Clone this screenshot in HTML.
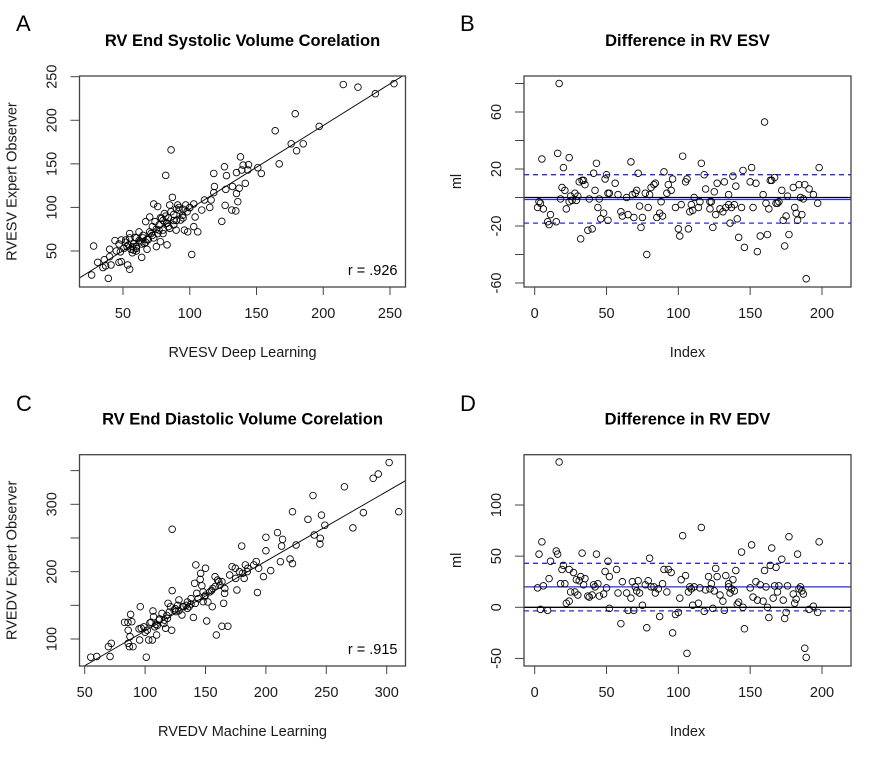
<!DOCTYPE html>
<html><head><meta charset="utf-8">
<style>
html,body{margin:0;padding:0;background:#fff;}
svg{display:block;font-family:"Liberation Sans",Arial,sans-serif;}
</style></head>
<body>
<svg id="fig" width="891" height="759" viewBox="0 0 891 759"></svg>
<script>
// ---- Panel A data: RVESV deep learning (x) vs expert (y)
const escX = [26.5,28,31,35,36,37,39,40,41,40,44,47,48.7,48,48.7,50.7,52,53.5,55,55,57,58,59,60,62,63,64,65,66,67,68,69,70,71,72,73,74,75,76,77,78,79,80,81,82,83,82.7,84,85,86,87,88,89.8,91,92,93.2,94.7,96,97,98.5,100,101.5,103,104,103,106,109,111,115,116,118,118,118.5,124,126,126.5,127,127.5,131.5,132,134.5,135,136,135,137,138,139,140,141.6,143.5,144,151,153.6,164,167,176,179,180,185,197,215,226,239,253,52,55,58,60,62,65,67,70,72,75,77,80,82,84,86,88,90,92,95,98,100,78,80,83,85,76,73,68,64,56,54,60,88,95,90,60,57,53,47,45];
const escY = [22.5,55.7,37,31,40,33,18.6,43.5,34,52,62,37,37.8,49,62.6,53,62.6,34,29,70,55,51,65.7,53,72,60.7,42.7,68,58.8,83.7,52,63,89,70,78,104,83.7,55,101,74,60.7,87.5,74,93,136.8,57,81.7,78,102.8,166,111.6,85,74,102.8,97,85.6,91,74,102.8,72,99.7,46,104,89,78,72,97,108.5,100,108.5,139,117,124,84,146.7,102.4,120.7,136.5,97,124,96,116,106.6,140,122,158,143,148.6,127.6,143,149,145.6,139,188,150,173,207.5,165,173,193,241,238,230.5,242,60,65,58,55,62,65,60,72,68,75,80,85,90,88,95,92,98,100,98,95,100,88,70,82,76,70,65,63,58,52,57,65,80,88,85,50,48,55,58,50];
// ---- Panel B data: difference in RV ESV
const diffEsvIdx = [2,3,4,5,6,9,10,11,15,16,17,18,19,20,21,22,24,24,25,26,28,29,30,31,32,33,34,35,37,38,40,41,42,43,44,45,46,48,49,50,51,51,52,56,58,60,61,64,65,67,68,69,70,71,72,73,74,75,77,78,79,80,81,83,84,85,87,88,89,90,92,93,95,96,98,100,101,102,103,105,106,107,108,109,110,111,114,115,116,118,119,122,122,123,124,125,126,127,129,131,132,133,135,135,136,137,138,139,140,141,142,144,145,146,150,151,152,154,155,157,159,160,161,162,163,164,165,167,168,169,170,172,173,174,175,176,177,180,181,182,183,184,185,186,187,188,189,191,194,197,198];
const diffEsvVal = [-7,-3,-4,27,-8,-17,-19,-12,-17,31,80,-1,7,21,5,-8,28,-3,1,-2,3,-2,1,11,-29,12,12,9,-23,-1,-22,17,5,24,-7,-1,-15,-11,13,16,-16,3,3,10,2,-10,-13,0,-12,25,2,-14,3,5,17,-6,-21,-14,3,-40,-7,2,7,9,10,-14,-11,-3,-13,18,3,9,5,13,-7,-22,-27,-5,29,11,13,-22,-10,-5,-9,0,-7,-3,24,16,6,-3,-8,-3,-21,4,-12,10,-8,-10,11,-7,-5,2,-18,-7,15,-5,8,-15,-28,-7,19,-35,11,21,-7,10,-38,-27,2,53,-4,-26,-8,12,12,14,-4,-4,-3,5,-16,-34,-13,1,-26,7,-7,-11,-16,9,0,-12,-1,9,-57,6,2,-4,21];
const esvMean = [-1.4], esvLo = [-18], esvHi = [16];
// ---- Panel C data: RVEDV machine learning (x) vs expert (y)
const edvX = [55,60,69.6,72,71,86,87,86,85.8,87.5,88,89,90,83,95.5,96,96.8,99,101,101.8,103,104,106,106.5,107,109,109.5,111.6,114,115.6,117,118.5,119,121,122,122.4,122.4,124,125.6,128,130.5,131,134,135,136.5,140,141,141.6,142,142.7,145.6,146,147,148,149,150,151,152,153.6,155.6,156,157.9,159,160,162,163.6,163.6,165,165.8,168.5,172,174.7,175,176,180,180.6,182,183,184.6,193,194,198,200,200,204,209.6,212,213.8,213,220,222,222,225,234.8,239,240,244.7,245,246,248.8,265,272,280.7,288.8,293,302,310,110,112,118,120,125,127,132,138,144,150,155,158,161,166,170,178,185,190,192,100,95,105,108,116,128,135,138,148];
const edvY = [73,74,88.6,93.6,74,93.6,88.6,113,124.8,103.5,136.6,125.7,88.6,124.8,98.5,148,116,118,73,113,98.5,124,98.5,141.6,133,121.8,106,128,138,123,116,130.7,153,148,113,263,171.8,143,140.6,158,135.6,148,150,145.5,148,132,182.7,153,210,167.8,188.6,197.5,179,155.4,162.9,205,126.7,155,170,148,175,192.6,106,187.6,180,119,185,153,167.8,119,207.4,205,190,172.8,238,197.5,190,210,200,169,205,192.6,251,231,201.5,258,214.8,248,238,218.8,212,289,239.6,277.7,313,254.5,241,249.5,284,269,326,265,287.6,338.6,345,362,289,120,130,135,140,145,150,148,152,160,165,172,178,185,175,195,200,205,210,215,110,115,125,118,128,142,155,160,170];
// ---- Panel D data: difference in RV EDV
const diffEdvIdx = [2,3,4,5,6,9,10,11,15,16,17,18,19,20,21,22,24,24,25,27,28,29,30,31,32,33,34,35,37,38,40,41,42,43,44,45,48,49,50,51,52,52,57,58,60,61,64,65,67,68,69,70,71,72,73,75,77,78,79,80,81,83,84,86,87,89,90,92,93,95,96,98,100,101,102,103,105,106,107,108,109,110,111,114,115,116,118,119,121,122,123,124,125,126,127,129,131,132,133,135,135,136,137,138,139,140,141,142,144,145,146,150,151,152,154,155,157,159,160,161,162,163,164,165,166,167,168,169,170,172,173,174,175,176,177,180,181,182,183,184,185,186,187,188,189,191,194,197,198];
const diffEdvVal = [19,52,-2,64,21,-3,28,45,55,52,142,23,37,41,23,4,37,6,15,34,15,27,12,26,30,53,22,28,11,10,12,22,20,52,23,11,13,35,19,45,-1,30,37,14,-16,25,14,-3,9,25,-3,20,16,26,14,2,22,-20,26,48,20,20,14,18,-9,23,37,15,37,34,-25,-7,-5,9,27,70,31,-45,15,20,18,2,20,4,19,78,-4,17,30,18,23,-1,16,38,30,12,6,-3,31,20,23,14,18,27,16,36,3,5,54,0,-21,19,61,10,25,7,22,6,36,20,0,-10,41,58,9,21,39,15,21,47,7,-11,-5,21,69,13,4,8,52,18,20,16,13,-40,-49,-2,1,-5,64];
const edvMean = [20], edvLo = [-3.5], edvHi = [43];

const NS = "http://www.w3.org/2000/svg";
const svg = document.getElementById('fig');
function mk(tag, attrs, parent, text) {
  const e = document.createElementNS(NS, tag);
  for (const k in attrs) e.setAttribute(k, attrs[k]);
  if (text !== undefined) e.textContent = text;
  (parent || svg).appendChild(e);
  return e;
}
function lin(d0, d1, r0, r1) { return v => r0 + (v - d0) * (r1 - r0) / (d1 - d0); }

function panel(cfg) {
  const g = mk('g', {});
  
  
  const X = lin(cfg.xd[0], cfg.xd[1], cfg.xr[0], cfg.xr[1]);
  const Y = lin(cfg.yd[0], cfg.yd[1], cfg.yr[0], cfg.yr[1]);
  const L = cfg.box[0], T = cfg.box[1], R = cfg.box[2], B = cfg.box[3];
  const lt = mk('text', {x: cfg.letterX, y: cfg.letterY, 'font-size': 22, fill: '#000'}, g, cfg.letter);
  
  
  const tt = mk('text', {x: (L + R) / 2, y: T - 30, 'font-size': 16.5, 'font-weight': 'bold', 'text-anchor': 'middle', fill: '#000'}, g, cfg.title);
  
  
  const cid = 'clip' + cfg.letter;
  const cp = mk('clipPath', {id: cid}, g);
  mk('rect', {x: L, y: T, width: R - L, height: B - T}, cp);
  const plot = mk('g', {'clip-path': 'url(#' + cid + ')'}, g);
  if (cfg.fit) {
    const fl = mk('line', {x1: X(cfg.fit[0][0]), y1: Y(cfg.fit[0][1]), x2: X(cfg.fit[1][0]), y2: Y(cfg.fit[1][1]), stroke: '#000', 'stroke-width': 0.9}, plot);
    
    
  }
  if (cfg.hlines) {
    const z = mk('line', {x1: L, x2: R, y1: Y(0), y2: Y(0), stroke: '#000', 'stroke-width': 1.3}, plot);
    
    
    const m = mk('line', {x1: L, x2: R, y1: Y(cfg.mean[0]), y2: Y(cfg.mean[0]), stroke: '#2b2bdc', 'stroke-width': 1.3}, plot);
    
    
    const lo = mk('line', {x1: L, x2: R, y1: Y(cfg.lo[0]), y2: Y(cfg.lo[0]), stroke: '#2b2bdc', 'stroke-width': 1.3, 'stroke-dasharray': '5,4'}, plot);
    
    
    const hi = mk('line', {x1: L, x2: R, y1: Y(cfg.hi[0]), y2: Y(cfg.hi[0]), stroke: '#2b2bdc', 'stroke-width': 1.3, 'stroke-dasharray': '5,4'}, plot);
    
    
  }
  for (let i = 0; i < cfg.px.length; i++) {
    const c = mk('circle', {cx: X(cfg.px[i]), cy: Y(cfg.py[i]), r: 3.3, fill: 'none', stroke: '#000', 'stroke-width': 0.85}, plot);
    
    
  }
  const bx = mk('rect', {x: L, y: T, width: R - L, height: B - T, fill: 'none', stroke: '#444', 'stroke-width': 1.3}, g);
  
  
  const xa = mk('g', {}, g);
  
  
  cfg.xt.forEach(v => {
    mk('line', {x1: X(v), x2: X(v), y1: B, y2: B + 8, stroke: '#444', 'stroke-width': 1}, xa);
    const t = mk('text', {x: X(v), y: B + 31, 'font-size': 14.5, 'text-anchor': 'middle', fill: '#1a1a1a'}, xa, String(v));
    
    
  });
  const ya = mk('g', {}, g);
  
  
  cfg.yt.forEach(v => {
    mk('line', {x1: L - 9, x2: L, y1: Y(v), y2: Y(v), stroke: '#444', 'stroke-width': 1}, ya);
  });
  cfg.ytl.forEach(v => {
    const t = mk('text', {x: 0, y: 0, 'font-size': 14.5, 'text-anchor': 'middle', fill: '#1a1a1a', transform: 'translate(' + (L - 23) + ',' + Y(v) + ') rotate(-90)'}, ya, String(v));
    
    
  });
  const xl = mk('text', {x: (L + R) / 2, y: B + 70, 'font-size': 14.5, 'text-anchor': 'middle', fill: '#1a1a1a'}, g, cfg.xlab);
  
  
  const yl = mk('text', {x: 0, y: 0, 'font-size': 14.5, 'text-anchor': 'middle', fill: '#1a1a1a', transform: 'translate(' + (L - 63) + ',' + ((T + B) / 2) + ') rotate(-90)'}, g, cfg.ylab);
  
  
  if (cfg.rtext) {
    const rt = mk('text', {x: R - 8, y: B - 12, 'font-size': 14.5, 'text-anchor': 'end', fill: '#000'}, g, cfg.rtext);
    
    
  }
}

panel({name: 'panel-a-esv-correlation', letter: 'A', letterX: 16, letterY: 31, title: 'RV End Systolic Volume Corelation',
  box: [79.5, 76, 405.5, 287], xd: [50, 250], xr: [123, 390], yd: [50, 250], yr: [251, 76.7],
  px: escX, py: escY, fit: [[10, 12], [270, 261]],
  xt: [50, 100, 150, 200, 250], yt: [50, 100, 150, 200, 250], ytl: [50, 100, 150, 200, 250],
  xlab: 'RVESV Deep Learning', ylab: 'RVESV Expert Observer', rtext: 'r = .926'});

panel({name: 'panel-b-esv-difference', letter: 'B', letterX: 460, letterY: 31, title: 'Difference in RV ESV',
  box: [524, 76, 851, 287], xd: [0, 200], xr: [534.7, 822], yd: [60, -60], yr: [112, 283],
  px: diffEsvIdx, py: diffEsvVal, hlines: true, mean: esvMean, lo: esvLo, hi: esvHi,
  xt: [0, 50, 100, 150, 200], yt: [-60, -40, -20, 0, 20, 40, 60, 80], ytl: [-60, -20, 20, 60],
  xlab: 'Index', ylab: 'ml'});

panel({name: 'panel-c-edv-correlation', letter: 'C', letterX: 16, letterY: 411, title: 'RV End Diastolic Volume Corelation',
  box: [79.5, 454.7, 405.5, 666], xd: [100, 300], xr: [145.1, 386.7], yd: [100, 300], yr: [639, 504.3],
  px: edvX, py: edvY, fit: [[40, 50], [330, 350]],
  xt: [50, 100, 150, 200, 250, 300], yt: [100, 150, 200, 250, 300, 350], ytl: [100, 200, 300],
  xlab: 'RVEDV Machine Learning', ylab: 'RVEDV Expert Observer', rtext: 'r = .915'});

panel({name: 'panel-d-edv-difference', letter: 'D', letterX: 460, letterY: 411, title: 'Difference in RV EDV',
  box: [524, 454.7, 851, 666], xd: [0, 200], xr: [534.7, 822], yd: [0, 100], yr: [607.3, 505],
  px: diffEdvIdx, py: diffEdvVal, hlines: true, mean: edvMean, lo: edvLo, hi: edvHi,
  xt: [0, 50, 100, 150, 200], yt: [-50, 0, 50, 100], ytl: [-50, 0, 50, 100],
  xlab: 'Index', ylab: 'ml'});
</script>
</body></html>
